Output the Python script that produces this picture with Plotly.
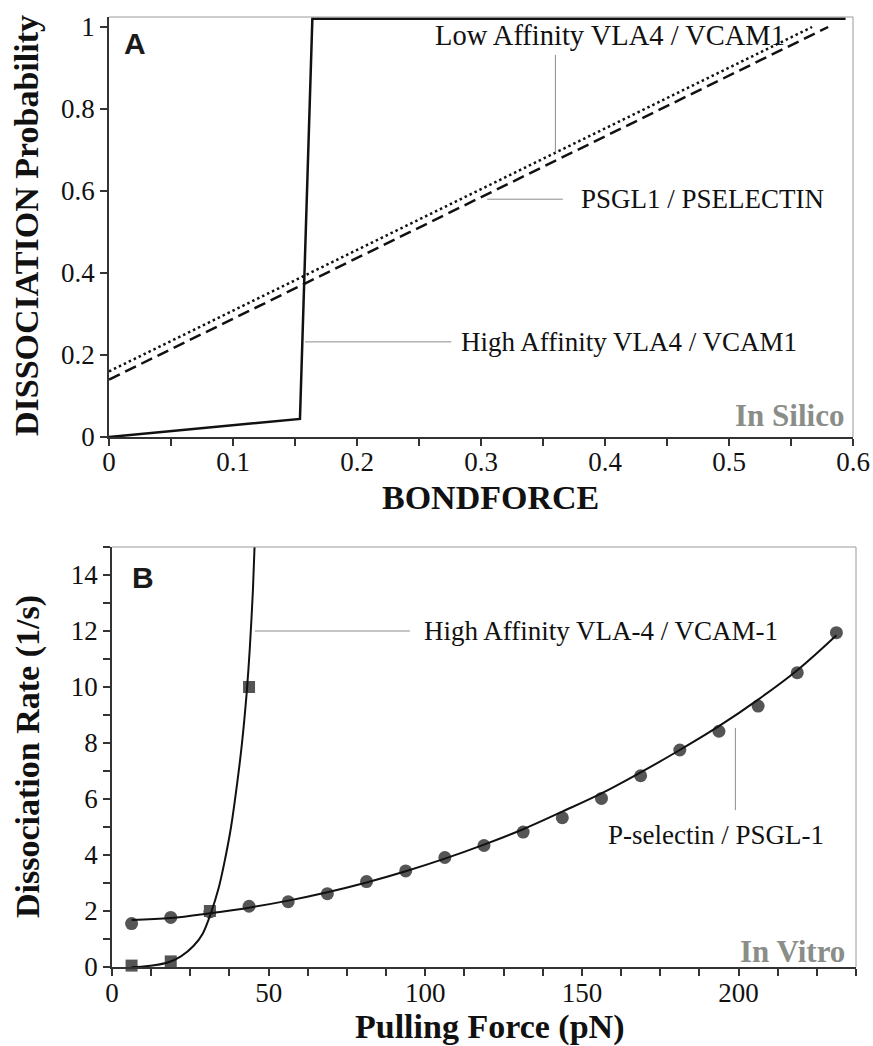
import plotly.graph_objects as go

# ---------------- Panel A: in silico dissociation probability ----------------
hi_aff_force = [0.0, 0.154, 0.164, 0.594]
hi_aff_prob = [0.0, 0.044, 1.02, 1.02]

psgl1_force = [0.0, 0.58]
psgl1_prob = [0.14, 1.0]

lo_aff_force = [0.0, 0.567]
lo_aff_prob = [0.16, 1.0]

a_xtick_vals = [0.0, 0.1, 0.2, 0.3, 0.4, 0.5, 0.6]
a_xtick_text = ["0", "0.1", "0.2", "0.3", "0.4", "0.5", "0.6"]
a_ytick_vals = [0.0, 0.2, 0.4, 0.6, 0.8, 1.0]
a_ytick_text = ["0", "0.2", "0.4", "0.6", "0.8", "1"]

# ---------------- Panel B: in vitro dissociation rate ----------------
psel_force = [6.25, 18.75, 31.25, 43.75, 56.25, 68.75, 81.25, 93.75, 106.25,
              118.75, 131.25, 143.75, 156.25, 168.75, 181.25, 193.75, 206.25,
              218.75, 231.25]
psel_rate = [1.55, 1.77, 1.97, 2.17, 2.33, 2.62, 3.05, 3.43, 3.91,
             4.34, 4.82, 5.33, 6.02, 6.83, 7.75, 8.42, 9.32,
             10.51, 11.94]
psel_fit_rate = [1.68, 1.75, 1.92, 2.12, 2.37, 2.67, 3.02, 3.42, 3.87,
                 4.37, 4.92, 5.55, 6.20, 6.95, 7.75, 8.60, 9.55,
                 10.60, 11.85]

vla4_force = [6.25, 18.75, 31.25, 43.75]
vla4_rate = [0.05, 0.2, 2.0, 10.0]

vla4_fit_force = [6.25, 10.0, 14.0, 18.0, 22.0, 26.0, 29.0, 31.5, 34.0,
                  36.0, 38.0, 40.0, 41.5, 43.0, 44.0, 45.0, 45.6]
vla4_fit_rate = [0.0, 0.02, 0.07, 0.17, 0.38, 0.75, 1.2, 1.9, 2.8,
                 3.8, 5.0, 6.6, 8.0, 9.8, 11.4, 13.5, 15.3]

b_xtick_vals = [0, 50, 100, 150, 200]
b_xtick_text = ["0", "50", "100", "150", "200"]
b_ytick_vals = [0, 2, 4, 6, 8, 10, 12, 14]
b_ytick_text = ["0", "2", "4", "6", "8", "10", "12", "14"]

W, H = 873, 1046
SERIF = "Liberation Serif, Times New Roman, serif"
SANS = "Liberation Sans, Arial, sans-serif"
AXIS_DARK = "#333333"
FRAME_GRAY = "#9a9a9a"
POINTER_GRAY = "#8c8c8c"
MARKER_GRAY = "#555555"


def px(x):
    return x / W


def py(y):
    return 1 - y / H


fig = go.Figure()

# Panel A curves
fig.add_trace(go.Scatter(x=lo_aff_force, y=lo_aff_prob, mode="lines",
                         line=dict(color="#111111", width=2.5, dash="2.5px,3px"),
                         xaxis="x", yaxis="y", showlegend=False))
fig.add_trace(go.Scatter(x=psgl1_force, y=psgl1_prob, mode="lines",
                         line=dict(color="#111111", width=2.5, dash="12px,6px"),
                         xaxis="x", yaxis="y", showlegend=False))
fig.add_trace(go.Scatter(x=hi_aff_force, y=hi_aff_prob, mode="lines",
                         line=dict(color="#111111", width=2.5),
                         xaxis="x", yaxis="y", showlegend=False))

# Panel B markers
fig.add_trace(go.Scatter(x=psel_force, y=psel_rate, mode="markers",
                         marker=dict(symbol="circle", size=13, color=MARKER_GRAY),
                         xaxis="x2", yaxis="y2", showlegend=False, cliponaxis=False))
fig.add_trace(go.Scatter(x=vla4_force, y=vla4_rate, mode="markers",
                         marker=dict(symbol="square", size=12, color=MARKER_GRAY),
                         xaxis="x2", yaxis="y2", showlegend=False, cliponaxis=False))
# Panel B fitted curves
fig.add_trace(go.Scatter(x=psel_force, y=psel_fit_rate, mode="lines",
                         line=dict(color="#111111", width=2, shape="spline"),
                         xaxis="x2", yaxis="y2", showlegend=False))
fig.add_trace(go.Scatter(x=vla4_fit_force, y=vla4_fit_rate, mode="lines",
                         line=dict(color="#111111", width=2, shape="spline",
                                   smoothing=0.8),
                         xaxis="x2", yaxis="y2", showlegend=False))

tick_font = dict(family=SERIF, size=27, color="#111111")

common_axis = dict(showgrid=False, zeroline=False, showline=True,
                   linecolor=AXIS_DARK, linewidth=1.5, ticks="outside",
                   ticklen=7, tickwidth=1.5, tickcolor=AXIS_DARK,
                   tickfont=tick_font, automargin=False, fixedrange=True)

fig.update_layout(template="none")
fig.update_layout(
    width=W, height=H,
    margin=dict(l=0, r=0, t=0, b=0),
    paper_bgcolor="white", plot_bgcolor="white",
    font=dict(family=SERIF, size=27, color="#111111"),
    xaxis=dict(domain=[px(109), px(853)], range=[0, 0.6], anchor="y",
               tickmode="array", tickvals=a_xtick_vals, ticktext=a_xtick_text,
               ticklabelstandoff=-7,
               minor=dict(dtick=0.05, tick0=0, ticks="outside", ticklen=7,
                          tickwidth=1.5, tickcolor=AXIS_DARK),
               **common_axis),
    yaxis=dict(domain=[py(437), py(17)], range=[0, 1.0244], anchor="x",
               tickmode="array", tickvals=a_ytick_vals, ticktext=a_ytick_text,
               **common_axis),
    xaxis2=dict(domain=[px(112), px(856)], range=[0, 237.5], anchor="y2",
                tickmode="array", tickvals=b_xtick_vals, ticktext=b_xtick_text,
                ticklabelstandoff=-6,
                minor=dict(dtick=12.5, tick0=0, ticks="outside", ticklen=7,
                           tickwidth=1.5, tickcolor=AXIS_DARK),
                **common_axis),
    yaxis2=dict(domain=[py(967), py(547)], range=[0, 15], anchor="x2",
                tickmode="array", tickvals=b_ytick_vals, ticktext=b_ytick_text,
                minor=dict(dtick=1, tick0=0, ticks="outside", ticklen=7,
                           tickwidth=1.5, tickcolor=AXIS_DARK),
                **common_axis),
)

shapes = []
# gray top / right frame for both panels
for xr, yr in (("x", "y"), ("x2", "y2")):
    shapes.append(dict(type="line", xref=f"{xr} domain", yref=f"{yr} domain",
                       x0=0, x1=1, y0=1, y1=1,
                       line=dict(color=FRAME_GRAY, width=1)))
    shapes.append(dict(type="line", xref=f"{xr} domain", yref=f"{yr} domain",
                       x0=1, x1=1, y0=0, y1=1,
                       line=dict(color=FRAME_GRAY, width=1)))

# label pointers, panel A
shapes.append(dict(type="line", xref="x", yref="y", x0=0.36, x1=0.36, y0=0.693, y1=0.932,
                   line=dict(color=POINTER_GRAY, width=1)))
shapes.append(dict(type="line", xref="x", yref="y", x0=0.305, x1=0.366, y0=0.58, y1=0.58,
                   line=dict(color=POINTER_GRAY, width=1)))
shapes.append(dict(type="line", xref="x", yref="y", x0=0.158, x1=0.276, y0=0.232, y1=0.232,
                   line=dict(color=POINTER_GRAY, width=1)))
# label pointers, panel B
shapes.append(dict(type="line", xref="x2", yref="y2", x0=45.6, x1=95.1, y0=12.0, y1=12.0,
                   line=dict(color=POINTER_GRAY, width=1)))
shapes.append(dict(type="line", xref="x2", yref="y2", x0=199.0, x1=199.0, y0=5.6, y1=8.54,
                   line=dict(color=POINTER_GRAY, width=1)))
fig.update_layout(shapes=shapes)

label_font = dict(family=SERIF, size=27, color="#111111")
title_font = dict(family=SERIF, size=34, color="#111111")
tag_font = dict(family=SERIF, size=31, color="#8a8d88")
panel_font = dict(family=SANS, size=30, color="#1a1a1a")

annotations = [
    # curve labels, panel A
    dict(text="Low Affinity VLA4 / VCAM1", xref="x", yref="y", x=0.261, y=0.98,
         xanchor="left", yanchor="middle", showarrow=False,
         font=dict(family=SERIF, size=28.5, color="#111111")),
    dict(text="PSGL1 / PSELECTIN", xref="x", yref="y", x=0.379, y=0.58,
         xanchor="left", yanchor="middle", showarrow=False, font=label_font),
    dict(text="High Affinity VLA4 / VCAM1", xref="x", yref="y", x=0.282, y=0.232,
         xanchor="left", yanchor="middle", showarrow=False, font=label_font),
    # curve labels, panel B
    dict(text="High Affinity VLA-4 / VCAM-1", xref="x2", yref="y2", x=98.9, y=12.0,
         xanchor="left", yanchor="middle", showarrow=False, font=label_font),
    dict(text="P-selectin / PSGL-1", xref="x2", yref="y2", x=192.7, y=4.7,
         xanchor="center", yanchor="middle", showarrow=False, font=label_font),
    # panel tags
    dict(text="<b>A</b>", xref="paper", yref="paper", x=px(135), y=py(44),
         xanchor="center", yanchor="middle", showarrow=False, font=panel_font),
    dict(text="<b>B</b>", xref="paper", yref="paper", x=px(143), y=py(577),
         xanchor="center", yanchor="middle", showarrow=False, font=panel_font),
    dict(text="<b>In Silico</b>", xref="paper", yref="paper", x=px(846), y=py(415),
         xanchor="right", yanchor="middle", showarrow=False, font=tag_font),
    dict(text="<b>In Vitro</b>", xref="paper", yref="paper", x=px(847), y=py(951),
         xanchor="right", yanchor="middle", showarrow=False, font=tag_font),
    # axis titles
    dict(text="<b>DISSOCIATION Probability</b>", xref="paper", yref="paper",
         x=px(27), y=py(226), textangle=-90, xanchor="center", yanchor="middle",
         showarrow=False, font=title_font),
    dict(text="<b>BONDFORCE</b>", xref="paper", yref="paper",
         x=px(490), y=py(497), xanchor="center", yanchor="middle",
         showarrow=False, font=title_font),
    dict(text="<b>Dissociation Rate (1/s)</b>", xref="paper", yref="paper",
         x=px(28), y=py(757), textangle=-90, xanchor="center", yanchor="middle",
         showarrow=False, font=title_font),
    dict(text="<b>Pulling Force (pN)</b>", xref="paper", yref="paper",
         x=px(489), y=py(1027), xanchor="center", yanchor="middle",
         showarrow=False, font=title_font),
]
fig.update_layout(annotations=annotations)

fig.write_html("out.html")
